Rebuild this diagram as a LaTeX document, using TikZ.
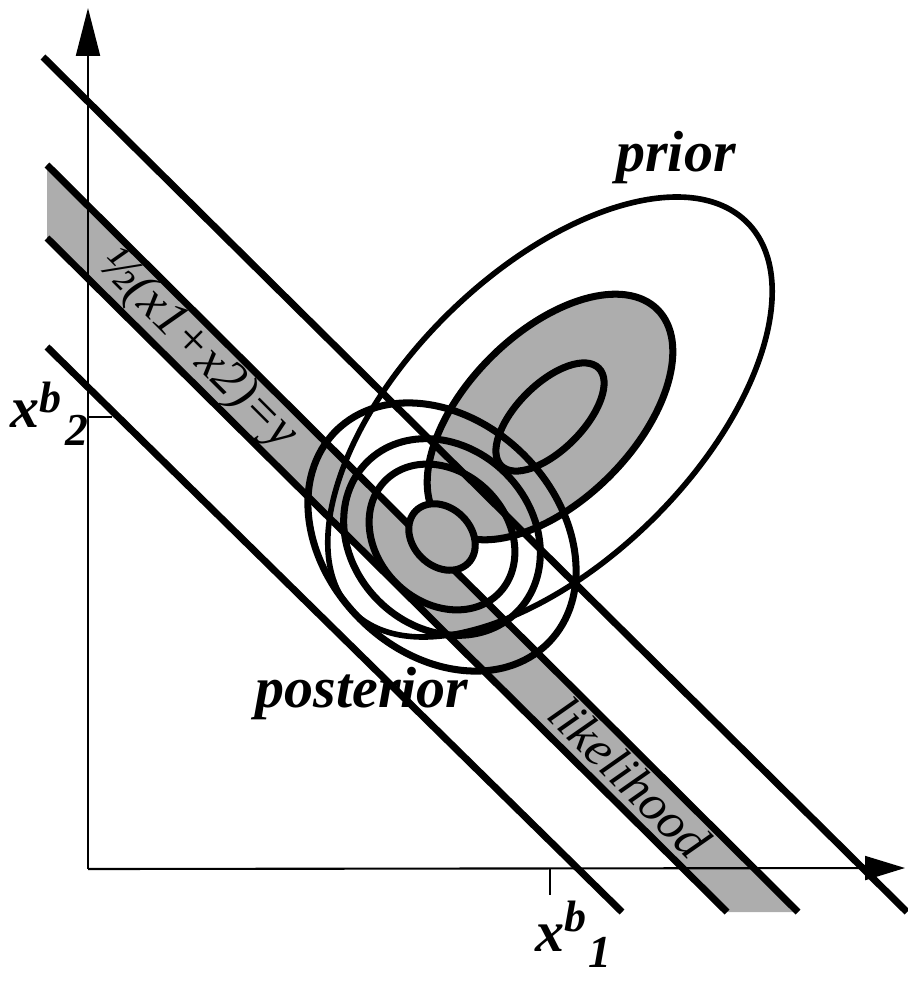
\documentclass[tikz,border=0pt]{standalone}
\usepackage{fontspec}
\setmainfont{Liberation Serif}
\usepackage{xcolor}
\usetikzlibrary{arrows.meta}
\definecolor{dotgray}{HTML}{ADADAD}

\begin{document}
\begin{tikzpicture}[x=0.1mm, y=0.1mm,
  contour/.style={line width=2pt},
  thincontour/.style={line width=1.6pt},
  halftone/.style={fill=dotgray},
  axisline/.style={line width=0.6pt},
  biglbl/.style={font=\fontsize{16.5}{18}\selectfont\bfseries\itshape, inner sep=0pt},
  bandlbl/.style={font=\fontsize{14.5}{16}\selectfont\itshape, inner sep=0pt, rotate=-45}]

  \useasboundingbox (0,0) rectangle (907,-981);

  % axes and lines
  \coordinate (origin) at (88,-869);
  \coordinate (ytip) at (88,-8);
  \coordinate (xtip) at (905,-868);
  \coordinate (ytick) at (88,-417);
  \coordinate (xtick) at (550,-869);
  \coordinate (topA) at (43,-57);
  \coordinate (topB) at (907,-912);
  \coordinate (bandA) at (47,-165);
  \coordinate (bandB) at (798,-912);
  \coordinate (bandC) at (727,-912);
  \coordinate (bandD) at (47,-238);
  \coordinate (lowA) at (47,-347);
  \coordinate (lowB) at (622,-912);
  % centres of prior and posterior
  \coordinate (prior) at (550,-417);
  \coordinate (post) at (442,-537);

  % shaded areas
  \fill[halftone] (bandA) -- (bandB) -- (bandC) -- (bandD) -- cycle;
  \fill[halftone, rotate around={45:(prior)}] (prior) ellipse (152 and 84);

  \draw[axisline, -{Triangle[length=4.8mm, width=2.4mm]}] (origin) -- (ytip);
  \draw[axisline, -{Triangle[length=4mm, width=2.4mm]}] (origin) -- (xtip);
  \draw[axisline] (ytick) -- ++(24,0);
  \draw[axisline] (xtick) -- ++(0,-26);

  \draw[contour] (topA) -- (topB);
  \draw[contour] (bandA) -- (bandB);
  \draw[contour] (bandD) -- (bandC);
  \draw[contour] (lowA) -- (lowB);

  % prior
  \draw[thincontour, rotate around={44.5:(prior)}] (prior) ellipse (277 and 145);
  \draw[contour, rotate around={45:(prior)}] (prior) ellipse (152 and 84);
  \draw[contour, rotate around={45:(prior)}] (prior) ellipse (69 and 33);

  % posterior
  \draw[contour, rotate around={-45:(post)}] (post) ellipse (150 and 116);
  \draw[contour, rotate around={-45:(post)}] (post) ellipse (106 and 90);
  \draw[contour, rotate around={-45:(post)}] (post) ellipse (80 and 65);
  \draw[contour, halftone, rotate around={-45:(post)}] (post) ellipse (37 and 29);

  % labels
  \node[biglbl, anchor=base] (priortext) at (676,-172) {prior};
  \node[biglbl, anchor=base] (posttext) at (362,-707) {posterior};
  \node[bandlbl] (liketext) at (630,-777) {likelihood};
  \node[bandlbl] (eqtext) at (197,-350) {½(x1+x2)=y};
  \node[biglbl, anchor=base west] (xbtwo) at (10,-427)
    {x\raisebox{4pt}{\fontsize{12.5}{13}\selectfont b}\hspace{1pt}\raisebox{-5.4pt}{\fontsize{13}{14}\selectfont 2}};
  \node[biglbl, anchor=base west] (xbone) at (535,-951)
    {x\raisebox{5.6pt}{\fontsize{12.5}{13}\selectfont b}\hspace{0.5pt}\raisebox{-4.8pt}{\fontsize{13}{14}\selectfont 1}};
\end{tikzpicture}
\end{document}
